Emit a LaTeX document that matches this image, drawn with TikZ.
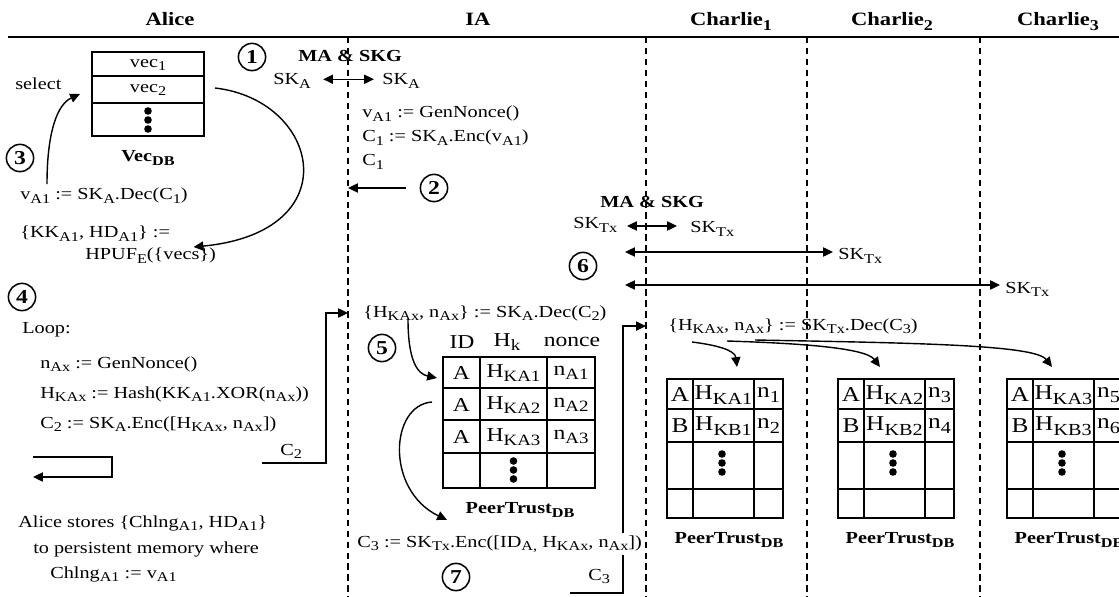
\documentclass[tikz,border=0pt]{standalone}
\usepackage{fontspec}
\setmainfont{Liberation Serif}[FakeStretch=1.2]
\usetikzlibrary{arrows.meta,calc,positioning}

\newcommand{\sbs}[1]{\raisebox{-0.22em}{\scalebox{0.8}{#1}}}
\newcommand{\dotstack}[2]{\foreach \d in {-9,0,9} \fill (#1,#2+\d) circle (2.7pt);}

\begin{document}
\begin{tikzpicture}[x=0.025cm,y=-0.025cm,font=\fontsize{12}{14}\selectfont,
  txt/.style={anchor=base west,inner sep=0pt},
  hd/.style={anchor=base,inner sep=0pt,font=\fontsize{13.4}{16}\selectfont\bfseries},
  bld/.style={inner sep=0pt,font=\fontsize{12}{14}\selectfont\bfseries},
  num/.style={draw,circle,line width=1.1pt,minimum size=0.68cm,inner sep=0pt,font=\fontsize{14}{16}\selectfont\bfseries},
  cell/.style={inner sep=0pt,font=\fontsize{#1}{16}\selectfont},
  tbl/.style={line width=1pt},
  conn/.style={line width=1pt,-{Triangle[length=7pt,width=6.5pt]}},
  both/.style={line width=1pt,{Triangle[length=7pt,width=6.5pt]}-{Triangle[length=7pt,width=6.5pt]}},
  life/.style={line width=0.9pt,dash pattern=on 4.5pt off 3.3pt}]
  \useasboundingbox (0,0) rectangle (1119,597);
  \clip (0,0) rectangle (1119,597);

  % lanes
  \node[hd] (alice) at (170,26) {Alice};
  \node[hd] (ia) at (478,26) {IA};
  \node[hd] (ch1) at (731,26) {Charlie\sbs{1}};
  \node[hd] (ch2) at (892,26) {Charlie\sbs{2}};
  \node[hd] (ch3) at (1058,26) {Charlie\sbs{3}};
  \draw[line width=1.2pt] (8,37) -- (1119,37);
  \coordinate (la) at (348,37);
  \coordinate (lb) at (646,37);
  \coordinate (lc) at (807,37);
  \coordinate (ld) at (980,37);
  \foreach \c in {la,lb,lc,ld} \draw[life] (\c) -- ++(0,560);

  % Alice
  \draw[tbl] (92,52) rectangle (204,136) (92,76) -- (204,76) (92,103) -- (204,103);
  \node[inner sep=0pt] (vec1) at (148,65) {vec\sbs{1}};
  \node[inner sep=0pt] (vec2) at (148,90) {vec\sbs{2}};
  \dotstack{148}{120}
  \node[bld] (vecdb) at (148,158) {Vec\sbs{DB}};
  \node[txt] (sel) at (15,90) {select};
  \node[num] (n3) at (20,158) {3};
  \node[txt] (decA) at (20,200) {v\sbs{A1} := SK\sbs{A}.Dec(C\sbs{1})};
  \node[txt] (kk) at (20,238) {\{KK\sbs{A1}, HD\sbs{A1}\} :=};
  \node[txt] (hpuf) at (85,260) {HPUF\sbs{E}(\{vecs\})};
  \coordinate (vsel) at (80,94);
  \coordinate (vout) at (215,88);
  \draw[conn] ($(decA.north west)+(27,-4)$) .. controls (47,130) and (58,104) .. (vsel);
  \draw[conn] (vout) .. controls (320,100) and (350,232) .. ($(hpuf.north)+(43,-1)$);

  \node[num] (n4) at (22,297) {4};
  \node[txt] (loop) at (22,333) {Loop:};
  \node[txt] (nonceA) at (40,368) {n\sbs{Ax} := GenNonce()};
  \node[txt] (hashA) at (40,398) {H\sbs{KAx} := Hash(KK\sbs{A1}.XOR(n\sbs{Ax}))};
  \node[txt] (enc2) at (40,428) {C\sbs{2} := SK\sbs{A}.Enc([H\sbs{KAx}, n\sbs{Ax}])};
  \draw[conn] (33,457) -- (112,457) -- (112,477) -- (33,477);
  \node[txt] (c2) at (280,455) {C\sbs{2}};
  \node[txt] (store1) at (18,527) {Alice stores \{Chlng\sbs{A1}, HD\sbs{A1}\}};
  \node[txt] (store2) at (33,553) {to persistent memory where};
  \node[txt] (store3) at (50,578) {Chlng\sbs{A1} := v\sbs{A1}};

  % IA
  \node[num] (n1) at (252,57) {1};
  \node[bld,anchor=base west] (mka) at (298,62) {MA \& SKG};
  \node[txt] (skA1) at (273,85) {SK\sbs{A}};
  \node[txt] (skA2) at (382,85) {SK\sbs{A}};
  \draw[both] ($(skA1.east)+(12,-2)$) -- ($(skA2.west)+(-8,-2)$);
  \node[txt] (nonce1) at (362,118) {v\sbs{A1} := GenNonce()};
  \node[txt] (enc1) at (362,142) {C\sbs{1} := SK\sbs{A}.Enc(v\sbs{A1})};
  \node[txt] (c1) at (362,166) {C\sbs{1}};
  \node[num] (n2) at (434,188) {2};
  \draw[conn] ([xshift=-10pt]n2.west) -- (n2.west -| la);

  \node[txt] (dec2) at (363,317) {\{H\sbs{KAx}, n\sbs{Ax}\} := SK\sbs{A}.Dec(C\sbs{2})};
  \draw[conn] ($(c2.base east)+(-40,8)$) -- (326,463) |- (dec2.west -| la);
  \node[num] (n5) at (382,348) {5};
  \node[cell=14] (hid) at (462,342) {ID};
  \node[cell=14] (hhk) at (507,342) {H\sbs{k}};
  \node[cell=14] (hno) at (572,342) {nonce};
  \draw[tbl] (443,357) rectangle (595,488);
  \draw[tbl] (480,357) -- (480,488) (547,357) -- (547,488);
  \foreach \y in {388,420,453} \draw[tbl] (443,\y) -- (595,\y);
  \foreach \r/\y in {1/373,2/405,3/437} {
    \node[cell=14] (ia\r) at (461.5,\y) {A};
    \node[cell=14] (ih\r) at (513.5,\y) {H\sbs{KA\r}};
    \node[cell=14] (in\r) at (571,\y) {n\sbs{A\r}};
  }
  \dotstack{513.5}{470}
  \node[bld] (ptia) at (520,510) {PeerTrust\sbs{DB}};
  \draw[conn] ($(dec2.south west)+(45,-2)$) .. controls (408,362) and (418,374) .. (437,378);
  \draw[conn] (432,402) .. controls (390,405) and (385,490) .. (447,520);
  \node[num] (n7) at (456,577) {7};
  \node[txt] (c3) at (588,580) {C\sbs{3}};
  \node[txt] (dec3) at (668,330) {\{H\sbs{KAx}, n\sbs{Ax}\} := SK\sbs{Tx}.Dec(C\sbs{3})};
  \draw[conn] (570,593) -- (623,593) |- (dec3.west -| lb);
  \node[txt,fill=white,inner sep=1.5pt] (enc3) at (355,547) {C\sbs{3} := SK\sbs{Tx}.Enc([ID\sbs{A,} H\sbs{KAx}, n\sbs{Ax}])};

  % Charlie
  \node[bld,anchor=base west] (mkc) at (600,208) {MA \& SKG};
  \node[txt] (skT0) at (573,229) {SK\sbs{Tx}};
  \node[txt] (skT1) at (690,233) {SK\sbs{Tx}};
  \node[txt] (skT2) at (838,260) {SK\sbs{Tx}};
  \node[txt] (skT3) at (1005,293) {SK\sbs{Tx}};
  \node[num] (n6) at (583,266) {6};
  \draw[both] (627,226) -- (677,226);
  \draw[both] (625,252) -- (833,252);
  \draw[both] (625,285) -- (1000,285);
  \foreach \x/\a/\b/\k in {667/1/2/1,838/3/4/2,1007/5/6/3} {
    \draw[tbl] (\x,379) rectangle (\x+116,518);
    \draw[tbl] (\x+26,379) -- (\x+26,518) (\x+87,379) -- (\x+87,518);
    \foreach \y in {409,442,489} \draw[tbl] (\x,\y) -- (\x+116,\y);
    \node[cell=15] (ca\k) at (\x+13,395) {A};
    \node[cell=15] (cha\k) at (\x+56.5,395) {H\sbs{KA\k}};
    \node[cell=15] (cna\k) at (\x+101.5,395) {n\sbs{\a}};
    \node[cell=15] (cb\k) at (\x+13,426) {B};
    \node[cell=15] (chb\k) at (\x+56.5,426) {H\sbs{KB\k}};
    \node[cell=15] (cnb\k) at (\x+101.5,426) {n\sbs{\b}};
    \dotstack{\x+55}{463}
    \node[bld] (ptc\k) at (\x+62,540) {PeerTrust\sbs{DB}};
  }
  \coordinate (in1) at (737,367);
  \coordinate (in2) at (880,367);
  \coordinate (in3) at (1052,367);
  \draw[conn] (692,342) .. controls (716,345) and (735,350) .. (in1);
  \draw[conn] (727,341) .. controls (790,343) and (865,347) .. (in2);
  \draw[conn] (755,340) .. controls (920,343) and (1035,345) .. (in3);
\end{tikzpicture}
\end{document}
